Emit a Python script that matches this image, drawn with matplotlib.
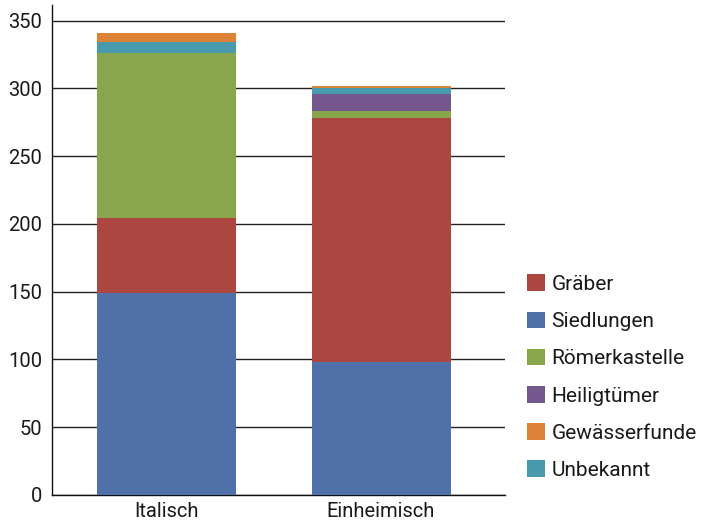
import matplotlib.pyplot as plt
from matplotlib.patches import Patch

plt.rcParams['font.family'] = ['Roboto', 'DejaVu Sans']

# Data
categories = ['Italisch', 'Einheimisch']
siedlungen = [149, 98]
graeber = [55, 180]
roemerkastelle = [122, 5]
heiligtuemer = [0, 13]
unbekannt = [8, 4]
gewaesserfunde = [7, 2]

# stacking order bottom -> top
series = [
    ('Siedlungen', siedlungen, '#4f70a8'),
    ('Gräber', graeber, '#ab4641'),
    ('Römerkastelle', roemerkastelle, '#8aa64c'),
    ('Heiligtümer', heiligtuemer, '#73578d'),
    ('Unbekannt', unbekannt, '#4a9aae'),
    ('Gewässerfunde', gewaesserfunde, '#dc8338'),
]
legend_order = ['Gräber', 'Siedlungen', 'Römerkastelle', 'Heiligtümer',
                'Gewässerfunde', 'Unbekannt']

fig = plt.figure(figsize=(7.05, 5.21), dpi=100)
ax = fig.add_axes([52 / 705, 26 / 521, 453 / 705, 490 / 521])

x = list(range(len(categories)))
bottom = [0] * len(categories)
colors = {}
for name, vals, col in series:
    ax.bar(x, vals, bottom=bottom, width=0.648, color=col, zorder=3)
    bottom = [b + v for b, v in zip(bottom, vals)]
    colors[name] = col

ax.set_xlim(-0.534, 1.578)
ax.set_ylim(0, 361.5)
ax.set_yticks(range(0, 351, 50))
ax.set_xticks(x)
ax.set_xticklabels(categories)
ax.tick_params(length=0, labelsize=14.5, colors='#1a1a1a')
ax.tick_params(axis='y', pad=7)
ax.tick_params(axis='x', pad=5)

ax.grid(axis='y', color='#222222', linewidth=1.0, zorder=1)
for s in ['top', 'right']:
    ax.spines[s].set_visible(False)
for s in ['left', 'bottom']:
    ax.spines[s].set_color('#111111')
    ax.spines[s].set_linewidth(1.0)

handles = [Patch(facecolor=colors[n], label=n) for n in legend_order]
fig.legend(handles=handles, loc='upper left', bbox_to_anchor=(519 / 705, 1 - 266 / 521),
           frameon=False, fontsize=15, handlelength=0.85, handleheight=0.85,
           handletextpad=0.3, labelspacing=0.85, borderaxespad=0,
           labelcolor='#1a1a1a')

fig.savefig('out.png', dpi=100)
